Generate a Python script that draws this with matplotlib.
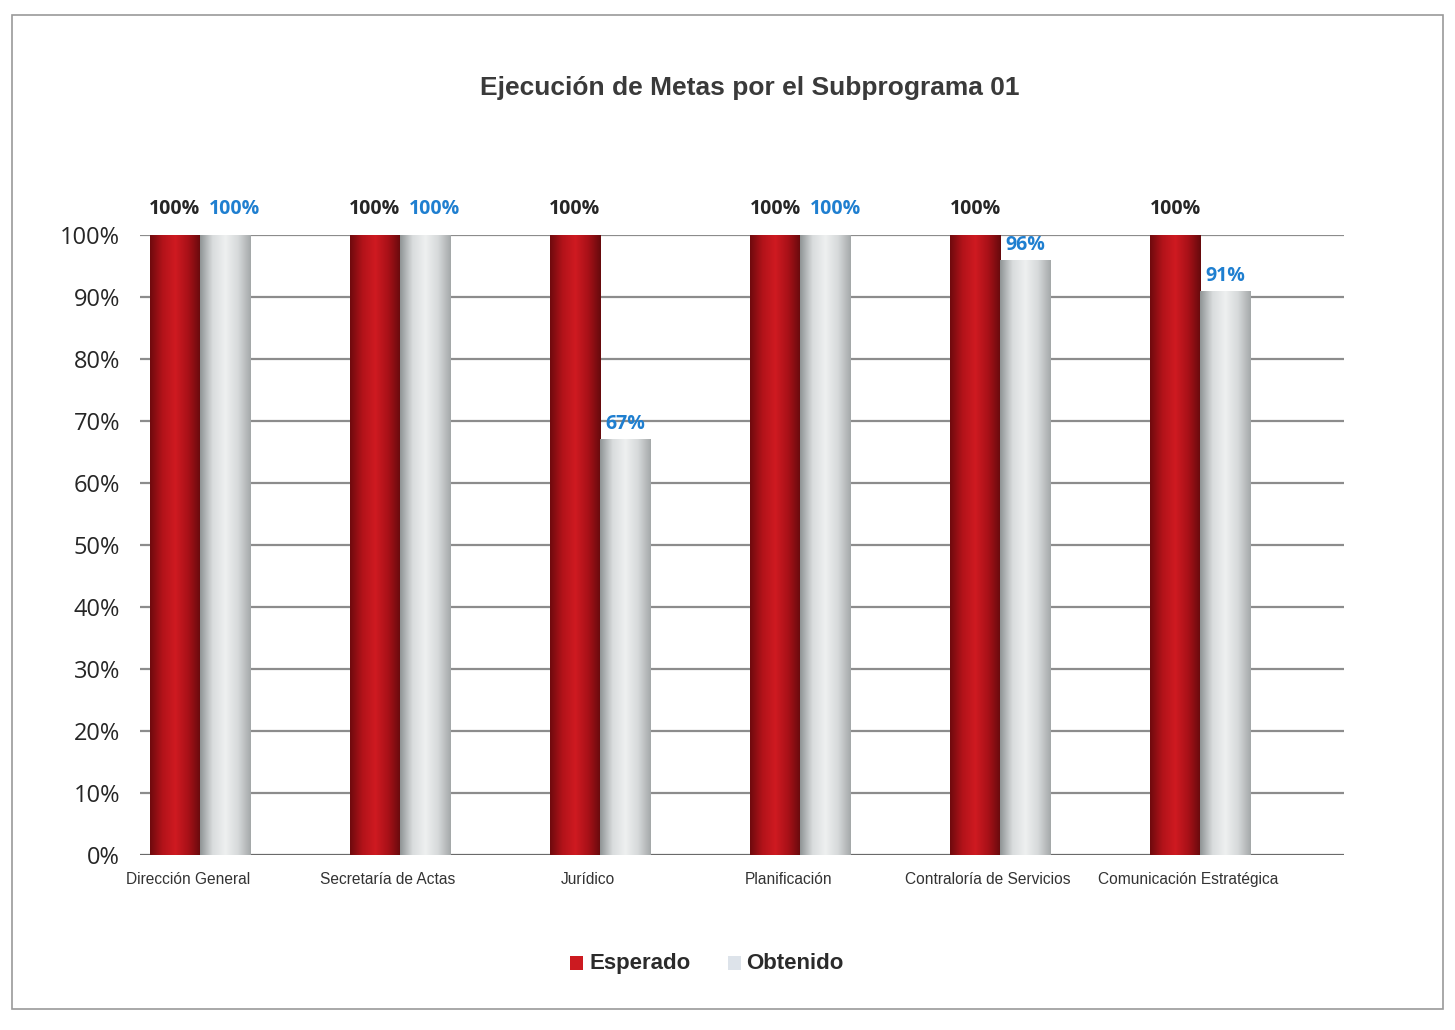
import numpy as np
import matplotlib
matplotlib.use("Agg")
import matplotlib.pyplot as plt
from matplotlib.colors import LinearSegmentedColormap
from matplotlib.patches import Rectangle

# datos
categorias = ["Dirección General", "Secretaría de Actas", "Jurídico",
              "Planificación", "Contraloría de Servicios", "Comunicación Estratégica"]
esperado = [1.00, 1.00, 1.00, 1.00, 1.00, 1.00]
obtenido = [1.00, 1.00, 0.67, 1.00, 0.96, 0.91]
etiq_esp = ["100%", "100%", "100%", "100%", "100%", "100%"]
etiq_obt = ["100%", "100%", "67%", "100%", "96%", "91%"]

narrow = ["Liberation Sans", "DejaVu Sans"]
cal = ["Open Sans", "DejaVu Sans"]

rojo = LinearSegmentedColormap.from_list("rojo", ["#6e0a0d", "#b3131a", "#cf1a21", "#a81118", "#650a0c"])
gris = LinearSegmentedColormap.from_list("gris", ["#8f9495", "#d9dcdd", "#eef0f0", "#d6d9da", "#a4a8a9"])

fig = plt.figure(figsize=(14.55, 10.30), dpi=100)
ax = fig.add_axes([0.096, 0.17, 0.828, 0.602])

x = np.arange(len(categorias))
w = 0.25
grad = np.linspace(0, 1, 256).reshape(1, -1)

# lineas de cuadricula
for v in np.arange(0.1, 1.01, 0.1):
    ax.axhline(v, color="#8c8c8c", lw=1.6, zorder=0)
ax.axhline(0, color="#6a6a6a", lw=1.6, zorder=0)

b1 = ax.bar(x - w / 2, esperado, w, color="#b5141b", zorder=2)
b2 = ax.bar(x + w / 2, obtenido, w, color="#dfe2e3", zorder=2)

for bars, cmap in ((b1, rojo), (b2, gris)):
    for p in bars:
        x0, y0 = p.get_x(), p.get_y()
        im = ax.imshow(grad, cmap=cmap, aspect="auto", zorder=3,
                       extent=[x0, x0 + p.get_width(), y0, y0 + p.get_height()])
        im.set_clip_path(p)

for i in range(len(categorias)):
    ax.text(x[i] - w / 2, esperado[i] + 0.025, etiq_esp[i], ha="center", va="bottom",
            fontsize=14, fontweight="bold", color="#262626", family=cal)
    yo = obtenido[i] + 0.025 if obtenido[i] >= 1 else obtenido[i] + 0.008
    ax.text(x[i] + w / 2 + (0.05 if obtenido[i] >= 1 else 0.0), yo, etiq_obt[i],
            ha="center", va="bottom", fontsize=14, fontweight="bold", color="#1f7fd0", family=cal)

ax.set_xlim(-0.3, 5.72)
ax.set_ylim(0, 1.0)
ax.set_yticks(np.arange(0, 1.01, 0.1))
ax.set_yticklabels([f"{int(round(v * 100))}%" for v in np.arange(0, 1.01, 0.1)],
                   fontsize=17, family=cal, color="#262626")
ax.set_xticks(x - 0.06)
ax.set_xticklabels(categorias, fontsize=11.2, family=narrow, color="#333333")
ax.tick_params(axis="x", length=0, pad=12)
ax.tick_params(axis="y", length=0, pad=14)
for s in ax.spines.values():
    s.set_visible(False)

fig.text(0.515, 0.915, "Ejecución de Metas por el Subprograma 01", ha="center", va="center",
         fontsize=19, fontweight="bold", family=narrow, color="#3a3a3a")

# leyenda
fig.patches.append(Rectangle((0.392, 0.058), 0.009, 0.014, transform=fig.transFigure,
                             facecolor="#cc1a20", edgecolor="none"))
fig.text(0.405, 0.065, "Esperado", va="center", fontsize=16, fontweight="bold",
         family=narrow, color="#2b2b2b")
fig.patches.append(Rectangle((0.500, 0.058), 0.009, 0.014, transform=fig.transFigure,
                             facecolor="#dde3ea", edgecolor="none"))
fig.text(0.513, 0.065, "Obtenido", va="center", fontsize=16, fontweight="bold",
         family=narrow, color="#2b2b2b")

# marco
fig.patches.append(Rectangle((0.008, 0.02), 0.984, 0.965, transform=fig.transFigure,
                             facecolor="none", edgecolor="#9a9a9a", lw=1.2))

fig.savefig("out.png", dpi=100)
